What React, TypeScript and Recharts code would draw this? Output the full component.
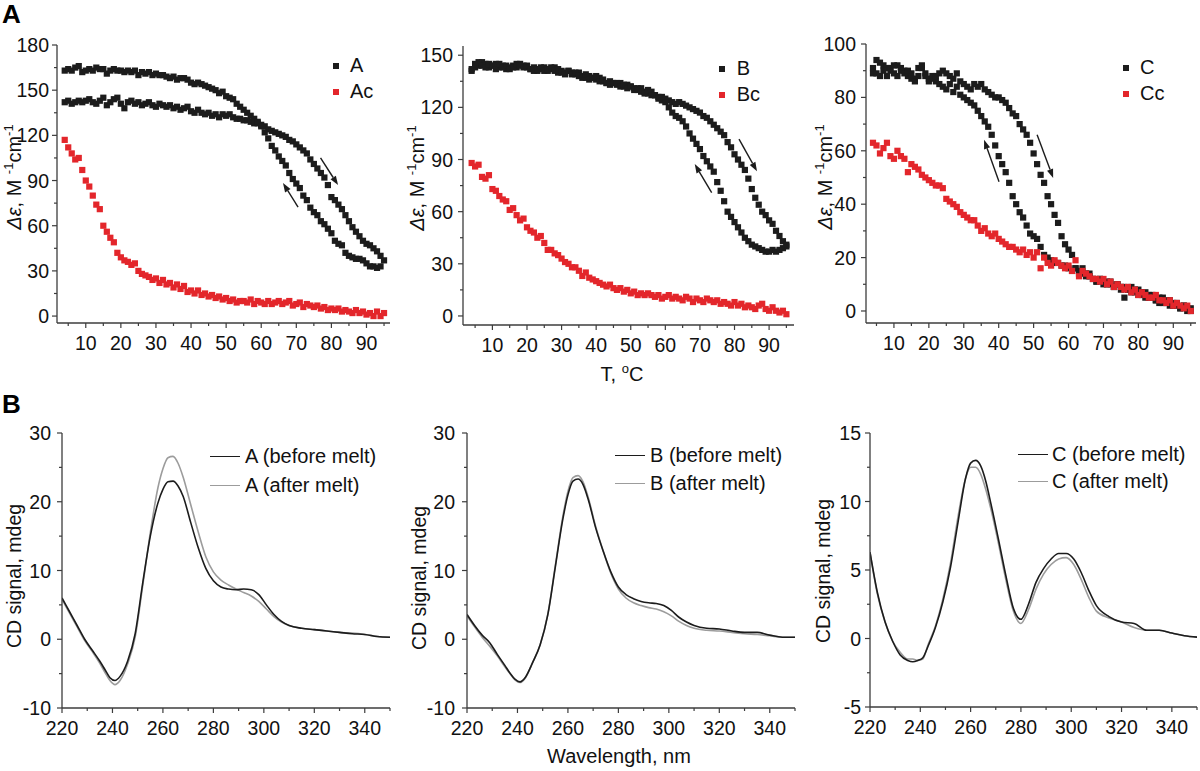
import React from "react";
import {
  ScatterChart, Scatter, LineChart, Line, XAxis, YAxis, ReferenceLine, Legend,
} from "recharts";

const FONT = "'Liberation Sans', Arial, Helvetica, sans-serif";
const INK = "#1c1c1c";
const RED = "#e3262b";
const AXIS = "#3c3c3c";
const GREY = "#9c9c9c";
const LABEL = "#111111";

// melting curves: one reading per degree, 4..95 °C
const TEMPS = [
  4, 5, 6, 7, 8, 9, 10, 11, 12, 13, 14, 15, 16, 17, 18, 19, 20, 21, 22, 23,
  24, 25, 26, 27, 28, 29, 30, 31, 32, 33, 34, 35, 36, 37, 38, 39, 40, 41, 42, 43,
  44, 45, 46, 47, 48, 49, 50, 51, 52, 53, 54, 55, 56, 57, 58, 59, 60, 61, 62, 63,
  64, 65, 66, 67, 68, 69, 70, 71, 72, 73, 74, 75, 76, 77, 78, 79, 80, 81, 82, 83,
  84, 85, 86, 87, 88, 89, 90, 91, 92, 93, 94, 95,
];

const A_HEAT = [
  142, 143, 141, 142, 143, 142, 143, 144, 142, 141,
  143, 145, 140, 142, 144, 145, 141, 138, 142, 143,
  141, 142, 140, 141, 142, 140, 139, 141, 140, 139,
  140, 138, 139, 137, 138, 139, 136, 135, 137, 135,
  134, 135, 133, 134, 132, 134, 133, 134, 132, 131,
  131, 130, 130, 129, 128, 128, 127, 126, 124, 123,
  122, 121, 120, 119, 117, 116, 114, 112, 110, 108,
  104, 101, 98, 95, 92, 87, 79, 77, 74, 71,
  67, 63, 59, 56, 53, 50, 48, 47, 45, 43, 40, 37,
];
const A_COOL = [
  163, 164, 163, 165, 166, 162, 163, 164, 163, 165,
  164, 164, 161, 163, 164, 163, 163, 162, 163, 162,
  163, 160, 162, 161, 162, 160, 161, 160, 160, 159,
  158, 159, 157, 158, 158, 157, 155, 154, 155, 154,
  153, 152, 151, 150, 148, 149, 146, 145, 144, 141,
  139, 137, 135, 133, 131, 129, 126, 122, 118, 113,
  110, 106, 103, 100, 95, 91, 88, 85, 80, 77,
  72, 69, 67, 63, 61, 58, 55, 50, 48, 47,
  42, 40, 39, 38, 38, 37, 35, 33, 33, 32, 33, null,
];
const A_CTRL = [
  117, 112, 108, 104, 105, 97, 90, 86, 80, 74,
  71, 60, 56, 52, 49, 42, 39, 37, 36, 34,
  35, 30, 28, 27, 26, 24, 25, 22, 24, 21,
  22, 19, 21, 18, 20, 16, 17, 15, 17, 14,
  15, 13, 14, 12, 13, 11, 12, 10, 11, 9,
  10, 10, 9, 11, 8, 10, 9, 8, 10, 8,
  9, 10, 8, 9, 10, 7, 8, 9, 6, 8,
  7, 6, 7, 5, 6, 4, 5, 4, 5, 3,
  4, 3, 2, 4, 2, 3, 1, 2, 0, 3, 0, 2,
];

const B_HEAT = [
  141, 143, 144, 146, 145, 143, 144, 145, 143, 144,
  142, 143, 144, 143, 145, 144, 143, 142, 143, 141,
  142, 143, 141, 142, 143, 140, 141, 140, 141, 140,
  139, 140, 138, 137, 138, 137, 136, 137, 135, 134,
  135, 134, 133, 134, 132, 133, 132, 131, 130, 131,
  129, 128, 129, 127, 126, 126, 125, 124, 123, 122,
  123, 122, 121, 120, 119, 118, 117, 115, 114, 112,
  110, 108, 106, 104, 100, 97, 93, 90, 87, 84,
  79, 73, 68, 64, 60, 58, 55, 53, 49, 46, 43, 40,
];
const B_COOL = [
  142, 145, 146, 144, 143, 145, 144, 142, 145, 143,
  144, 142, 143, 145, 144, 143, 144, 142, 141, 142,
  143, 141, 142, 143, 141, 142, 140, 139, 141, 139,
  140, 138, 137, 139, 136, 137, 138, 135, 136, 134,
  133, 134, 134, 132, 133, 131, 132, 130, 131, 129,
  128, 130, 127, 127, 125, 124, 123, 120, 117, 115,
  114, 112, 109, 105, 102, 99, 96, 92, 89, 86,
  83, 77, 72, 66, 60, 57, 54, 51, 48, 45,
  43, 41, 40, 39, 38, 37, 37, 38, 37, 38, 39, 41,
];
const B_CTRL = [
  88, 86, 87, 80, 79, 81, 73, 72, 69, 67,
  66, 61, 62, 58, 55, 56, 51, 49, 48, 45,
  46, 42, 38, 38, 36, 35, 33, 31, 30, 28,
  28, 26, 23, 25, 22, 21, 20, 19, 18, 17,
  18, 16, 15, 16, 14, 15, 13, 14, 12, 13,
  12, 13, 12, 11, 12, 10, 11, 12, 10, 11,
  10, 9, 11, 10, 8, 10, 9, 8, 10, 9,
  8, 9, 7, 8, 7, 6, 8, 6, 7, 5,
  6, 5, 4, 6, 7, 4, 3, 5, 3, 2, 3, 1,
];

const C_HEAT = [
  89, 94, 88, 92, 91, 90, 89, 92, 91, 90,
  88, 89, 87, 91, 92, 89, 87, 88, 86, 89,
  90, 89, 88, 87, 89, 86, 85, 84, 83, 85,
  84, 85, 83, 82, 81, 80, 80, 79, 78, 76,
  74, 73, 70, 68, 66, 63, 59, 55, 51, 48,
  43, 40, 36, 33, 28, 25, 23, 21, 16, 15,
  16, 14, 13, 12, 11, 12, 10, 11, 10, 9,
  10, 9, 5, 8, 9, 7, 8, 6, 7, 5,
  6, 4, 3, 5, 3, 4, 2, 3, 1, 2, 1, 0,
];
const C_COOL = [
  91, 89, 93, 90, 88, 91, 92, 88, 90, 89,
  90, 87, 86, 88, 91, 88, 86, 87, 88, 85,
  84, 83, 85, 82, 84, 81, 80, 79, 78, 77,
  75, 73, 71, 69, 66, 62, 58, 55, 52, 48,
  43, 40, 37, 35, 32, 29, 28, 27, 24, 21,
  20, 19, 18, 18, 17, 17, 16, 15, 16, 14,
  14, 13, 14, 12, 11, 12, 11, 10, 11, 9,
  10, 8, 9, 8, 7, 8, 6, 7, 5, 6,
  5, 4, 5, 3, 4, 2, 3, 2, 1, 2, 0, 1,
];
const C_CTRL = [
  63, 62, 59, 61, 63, 58, 57, 60, 58, 57,
  52, 55, 54, 53, 51, 50, 49, 48, 47, 47,
  46, 42, 41, 40, 39, 37, 36, 35, 34, 34,
  32, 30, 31, 29, 28, 29, 27, 26, 25, 24,
  24, 23, 22, 23, 21, 22, 20, 22, 16, 20,
  18, 17, 19, 18, 17, 16, 17, 15, 19, 13,
  15, 14, 13, 12, 12, 11, 12, 10, 11, 9,
  10, 9, 8, 9, 7, 8, 6, 7, 6, 5,
  5, 6, 4, 4, 3, 4, 2, 3, 2, 1, 2, 0,
];

// heating / cooling arrows, in data units
const A_ARROWS = [
  [{ x: 76.9, y: 105 }, { x: 81.9, y: 87 }],
  [{ x: 70.5, y: 72.4 }, { x: 66.2, y: 88.3 }],
];
const B_ARROWS = [
  [{ x: 81.3, y: 101.7 }, { x: 86.5, y: 83.3 }],
  [{ x: 73.4, y: 70.9 }, { x: 68.5, y: 87.4 }],
];
const C_ARROWS = [
  [{ x: 40.1, y: 48.4 }, { x: 35.8, y: 64.1 }],
  [{ x: 51, y: 66 }, { x: 55.6, y: 49.8 }],
];

// CD spectra
const WL = [
  220, 223, 226, 229, 232, 235, 237, 239, 241, 243, 246, 249, 252, 255, 258,
  260, 262, 264, 266, 268, 271, 274, 277, 280, 283, 286, 289, 292, 295, 298,
  301, 304, 307, 310, 315, 320, 325, 330, 335, 340, 345, 350,
];
const A_BEFORE = [
  6.0, 4.0, 2.0, 0.0, -1.6, -3.2, -4.4, -5.6, -6.0, -5.4, -3.2, 0.8, 8.2, 15.0, 19.8,
  21.8, 22.9, 23.0, 22.3, 20.8, 17.0, 13.3, 10.3, 8.5, 7.6, 7.3, 7.2, 7.3, 7.2, 6.5,
  5.0, 3.6, 2.6, 2.0, 1.6, 1.4, 1.2, 1.0, 0.8, 0.7, 0.4, 0.3,
];
const A_AFTER = [
  5.8, 3.8, 1.8, -0.2, -1.8, -3.5, -4.8, -6.0, -6.6, -6.0, -3.6, 0.3, 7.8, 15.5, 22.0,
  24.8, 26.4, 26.6, 25.6, 23.6, 19.6, 15.6, 12.0, 9.8, 8.6, 7.9, 7.3, 6.8, 6.3, 5.5,
  4.4, 3.3, 2.5, 2.0, 1.6, 1.4, 1.2, 1.0, 0.9, 0.7, 0.4, 0.3,
];
const B_BEFORE = [
  3.6, 2.0, 0.6, -0.5, -2.2, -3.8, -4.9, -5.8, -6.2, -5.6, -3.4, -0.8, 3.5, 10.5, 17.5,
  21.0, 23.0, 23.3, 22.5, 20.4, 16.2, 12.8, 9.8, 7.6, 6.5, 5.9, 5.5, 5.3, 5.2, 4.9,
  4.2, 3.2, 2.5, 2.0, 1.6, 1.5, 1.2, 1.0, 1.0, 0.6, 0.3, 0.3,
];
const B_AFTER = [
  3.4, 1.8, 0.3, -1.0, -2.4, -4.0, -5.0, -5.9, -6.3, -5.7, -3.4, -0.8, 3.6, 10.7, 17.9,
  21.5, 23.5, 23.8, 22.9, 20.7, 16.4, 12.8, 9.6, 7.3, 6.0, 5.3, 4.9, 4.6, 4.4, 4.0,
  3.4, 2.6, 2.0, 1.6, 1.3, 1.2, 1.0, 0.8, 0.7, 0.5, 0.3, 0.3,
];
const C_BEFORE = [
  6.3, 3.3, 1.2, -0.2, -1.2, -1.6, -1.7, -1.6, -1.4, -0.6, 0.8, 2.7, 5.2, 8.5, 11.7,
  12.8, 13.0, 12.6, 11.5, 9.9, 7.3, 4.6, 2.2, 1.4, 2.5, 4.1, 5.1, 5.8, 6.2, 6.2,
  5.8, 4.8, 3.5, 2.4, 1.6, 1.2, 1.1, 0.6, 0.6, 0.4, 0.2, 0.1,
];
const C_AFTER = [
  6.3, 3.2, 1.2, -0.2, -1.0, -1.5, -1.5, -1.6, -1.5, -0.5, 0.9, 2.9, 5.5, 8.9, 11.7,
  12.5, 12.5, 12.0, 10.9, 9.5, 7.0, 4.3, 2.0, 1.1, 2.1, 3.6, 4.7, 5.4, 5.8, 5.9,
  5.4, 4.3, 3.0, 2.0, 1.5, 1.2, 0.8, 0.6, 0.6, 0.4, 0.2, 0.1,
];

// ticks (labels only on the major ones)
const T_TICKS = [5, 10, 15, 20, 25, 30, 35, 40, 45, 50, 55, 60, 65, 70, 75, 80, 85, 90, 95];
const A_Y_TICKS = [0, 15, 30, 45, 60, 75, 90, 105, 120, 135, 150, 165, 180];
const B_Y_TICKS = [0, 15, 30, 45, 60, 75, 90, 105, 120, 135, 150];
const C_Y_TICKS = [0, 10, 20, 30, 40, 50, 60, 70, 80, 90, 100];
const WL_TICKS = [220, 230, 240, 250, 260, 270, 280, 290, 300, 310, 320, 330, 340, 350];
const CD_TICKS = [-10, -5, 0, 5, 10, 15, 20, 25, 30];
const C_CD_TICKS = [-5, -2.5, 0, 2.5, 5, 7.5, 10, 12.5, 15];

const toPoints = (vals: (number | null)[]) =>
  TEMPS.map((t, i) => ({ t, v: vals[i] })).filter((p) => p.v !== null);

const toRows = (before: number[], after: number[]) =>
  WL.map((wl, i) => ({ wl, before: before[i], after: after[i] }));

const axisLine = { stroke: AXIS, strokeWidth: 1.3 };

const xTick = (isMajor: (v: number) => boolean) => (props: any) => {
  const { x, y, payload } = props;
  const major = isMajor(payload.value);
  return (
    <g>
      <line x1={x} x2={x} y1={y} y2={y + (major ? 5 : 3)} stroke={AXIS} strokeWidth={1.2} />
      {major && (
        <text x={x} y={y + 27} textAnchor="middle" fontSize={19.5} fontFamily={FONT} fill={LABEL}>
          {payload.value}
        </text>
      )}
    </g>
  );
};

const yTick = (isMajor: (v: number) => boolean, gap: number) => (props: any) => {
  const { x, y, payload } = props;
  const major = isMajor(payload.value);
  return (
    <g>
      <line x1={x - (major ? 5 : 3)} x2={x} y1={y} y2={y} stroke={AXIS} strokeWidth={1.2} />
      {major && (
        <text x={x - gap} y={y + 7} textAnchor="end" fontSize={19.5} fontFamily={FONT} fill={LABEL}>
          {payload.value}
        </text>
      )}
    </g>
  );
};

const square = (color: string) => (p: any) => (
  <rect x={p.cx - 3.1} y={p.cy - 3.1} width={6.2} height={6.2} fill={color} />
);

const Arrow = (p: any) => {
  const { x1, y1, x2, y2 } = p;
  const ang = Math.atan2(y2 - y1, x2 - x1);
  const bx = x2 - 9 * Math.cos(ang);
  const by = y2 - 9 * Math.sin(ang);
  const nx = -Math.sin(ang) * 3.2;
  const ny = Math.cos(ang) * 3.2;
  return (
    <g>
      <line x1={x1} y1={y1} x2={bx} y2={by} stroke={INK} strokeWidth={1.4} />
      <polygon points={`${x2},${y2} ${bx + nx},${by + ny} ${bx - nx},${by - ny}`} fill={INK} />
    </g>
  );
};

const legendItems = (payload: any[] = [], order: string[]) => {
  const seen = new Set<string>();
  return payload
    .filter((it) => it.type !== "none" && order.includes(it.value))
    .filter((it) => (seen.has(it.value) ? false : (seen.add(it.value), true)))
    .sort((a, b) => order.indexOf(a.value) - order.indexOf(b.value));
};

const SquareLegend = ({ payload, order, gap }: any) => (
  <div style={{ fontFamily: FONT, fontSize: 20, color: LABEL }}>
    {legendItems(payload, order).map((it: any) => (
      <div key={it.value} style={{ display: "flex", alignItems: "center", height: 26 }}>
        <span style={{ width: 12, display: "flex", justifyContent: "center" }}>
          <span style={{ width: 6, height: 6, background: it.color }} />
        </span>
        <span style={{ marginLeft: gap }}>{it.value}</span>
      </div>
    ))}
  </div>
);

const LineLegend = ({ payload, order, gap, row }: any) => (
  <div style={{ fontFamily: FONT, fontSize: 20, color: LABEL }}>
    {legendItems(payload, order).map((it: any) => (
      <div key={it.value} style={{ display: "flex", alignItems: "center", height: row, whiteSpace: "nowrap" }}>
        <span style={{ width: 30, height: 0, borderTop: `1.6px solid ${it.color}` }} />
        <span style={{ marginLeft: gap }}>{it.value}</span>
      </div>
    ))}
  </div>
);

function MeltPanel(p: any) {
  return (
    <div style={{ position: "absolute", left: p.left, top: 0 }}>
      <ScatterChart width={400} height={380} margin={p.margin}>
        <XAxis dataKey="t" type="number" domain={p.xDomain} allowDataOverflow ticks={T_TICKS} interval={0}
          tick={xTick((v) => v % 10 === 0)} tickLine={false} tickSize={0} tickMargin={0} height={40} axisLine={axisLine} />
        <YAxis dataKey="v" type="number" domain={p.yDomain} allowDataOverflow ticks={p.yTicks} interval={0}
          tick={yTick((v) => v % p.yMajor === 0, p.yGap)} tickLine={false} tickSize={0} tickMargin={0} width={50} axisLine={axisLine} />
        <XAxis xAxisId="top" orientation="top" type="number" domain={p.xDomain} allowDataOverflow
          tick={false} tickLine={false} height={0} axisLine={axisLine} />
        <YAxis yAxisId="right" orientation="right" type="number" domain={p.yDomain} allowDataOverflow
          tick={false} tickLine={false} width={0} axisLine={axisLine} />
        <Scatter name={p.name} data={toPoints(p.heat)} fill={INK} shape={square(INK)} isAnimationActive={false} />
        <Scatter name={p.name} data={toPoints(p.cool)} fill={INK} shape={square(INK)} legendType="none" isAnimationActive={false} />
        <Scatter name={p.ctrlName} data={toPoints(p.ctrl)} fill={RED} shape={square(RED)} isAnimationActive={false} />
        {p.arrows.map((seg: any, i: number) => (
          <ReferenceLine key={i} segment={seg} shape={Arrow} />
        ))}
        <Legend layout="vertical" align="center" verticalAlign="middle"
          wrapperStyle={{ left: p.legend.left, top: p.legend.top, width: "auto" }}
          content={(lp: any) => <SquareLegend payload={lp.payload} order={[p.name, p.ctrlName]} gap={p.legend.gap} />} />
      </ScatterChart>
    </div>
  );
}

function SpectrumPanel(p: any) {
  const before = `${p.id} (before melt)`;
  const after = `${p.id} (after melt)`;
  return (
    <div style={{ position: "absolute", left: p.left, top: 380 }}>
      <LineChart width={400} height={391} data={toRows(p.before, p.after)} margin={p.margin}>
        <XAxis dataKey="wl" type="number" domain={[220, 350]} allowDataOverflow ticks={WL_TICKS} interval={0}
          tick={xTick((v) => (v - 220) % 20 === 0)} tickLine={false} tickSize={0} tickMargin={0} height={40} axisLine={axisLine} />
        <YAxis type="number" domain={p.yDomain} allowDataOverflow ticks={p.yTicks} interval={0}
          tick={yTick((v) => v % p.yMajor === 0, p.yGap)} tickLine={false} tickSize={0} tickMargin={0} width={50} axisLine={axisLine} />
        <XAxis xAxisId="top" orientation="top" type="number" domain={[220, 350]} allowDataOverflow
          tick={false} tickLine={false} height={0} axisLine={axisLine} />
        <YAxis yAxisId="right" orientation="right" type="number" domain={p.yDomain} allowDataOverflow
          tick={false} tickLine={false} width={0} axisLine={axisLine} />
        <Line dataKey="after" name={after} type="monotone" stroke={GREY} strokeWidth={1.6} dot={false} isAnimationActive={false} />
        <Line dataKey="before" name={before} type="monotone" stroke={INK} strokeWidth={1.6} dot={false} isAnimationActive={false} />
        <Legend layout="vertical" align="center" verticalAlign="middle"
          wrapperStyle={{ left: p.legend.left, top: p.legend.top, width: "auto" }}
          content={(lp: any) => <LineLegend payload={lp.payload} order={[before, after]} gap={p.legend.gap} row={p.legend.row} />} />
      </LineChart>
    </div>
  );
}

const DeltaEps = ({ x, y }: { x: number; y: number }) => (
  <text x={x} y={y} transform={`rotate(-90 ${x} ${y})`} textAnchor="middle" fontSize={20} fontFamily={FONT} fill={LABEL}>
    <tspan fontStyle="italic">Δε</tspan>
    {", M "}
    <tspan fontSize={13} dy={-8}>-1</tspan>
    <tspan dy={8}>cm</tspan>
    <tspan fontSize={13} dy={-8}>-1</tspan>
  </text>
);

const CdTitle = ({ x, y }: { x: number; y: number }) => (
  <text x={x} y={y} transform={`rotate(-90 ${x} ${y})`} textAnchor="middle" fontSize={19.5} fontFamily={FONT} fill={LABEL}>
    CD signal, mdeg
  </text>
);

export default function App() {
  return (
    <div style={{ position: "absolute", left: 0, top: 0, width: 1200, height: 771, background: "#fff", fontFamily: FONT, overflow: "hidden" }}>
      <MeltPanel left={0} margin={{ top: 45, right: 10, bottom: 17, left: 7 }} xDomain={[1.8, 96.7]} yDomain={[-4.6, 180]}
        yTicks={A_Y_TICKS} yMajor={30} yGap={8} heat={A_HEAT} cool={A_COOL} ctrl={A_CTRL} name="A" ctrlName="Ac"
        arrows={A_ARROWS} legend={{ left: 329.5, top: 52.5, gap: 8.5 }} />
      <MeltPanel left={400} margin={{ top: 46, right: 6, bottom: 15, left: 13 }} xDomain={[1.5, 97.2]} yDomain={[-5.2, 155.3]}
        yTicks={B_Y_TICKS} yMajor={30} yGap={10} heat={B_HEAT} cool={B_COOL} ctrl={B_CTRL} name="B" ctrlName="Bc"
        arrows={B_ARROWS} legend={{ left: 316, top: 55.5, gap: 8.7 }} />
      <MeltPanel left={800} margin={{ top: 44, right: 4, bottom: 17, left: 16 }} xDomain={[2, 96.5]} yDomain={[-4.5, 100]}
        yTicks={C_Y_TICKS} yMajor={20} yGap={10} heat={C_HEAT} cool={C_COOL} ctrl={C_CTRL} name="C" ctrlName="Cc"
        arrows={C_ARROWS} legend={{ left: 319.5, top: 54.5, gap: 8.5 }} />

      <SpectrumPanel left={0} id="A" margin={{ top: 53, right: 10, bottom: 23, left: 12 }} yDomain={[-10, 30]} yTicks={CD_TICKS}
        yMajor={10} yGap={11} before={A_BEFORE} after={A_AFTER} legend={{ left: 210, top: 61.5, gap: 5, row: 29 }} />
      <SpectrumPanel left={400} id="B" margin={{ top: 53, right: 5, bottom: 23, left: 17 }} yDomain={[-10, 30]} yTicks={CD_TICKS}
        yMajor={10} yGap={12} before={B_BEFORE} after={B_AFTER} legend={{ left: 215, top: 61, gap: 5, row: 28 }} />
      <SpectrumPanel left={800} id="C" margin={{ top: 53, right: 3, bottom: 24, left: 20 }} yDomain={[-5, 15]} yTicks={C_CD_TICKS}
        yMajor={5} yGap={9} before={C_BEFORE} after={C_AFTER} legend={{ left: 218, top: 61, gap: 4, row: 27 }} />

      <svg width={1200} height={771} style={{ position: "absolute", left: 0, top: 0, pointerEvents: "none" }}>
        <text x={2} y={23} fontSize={26} fontWeight="bold" fontFamily={FONT} fill="#000">A</text>
        <text x={2} y={413} fontSize={26} fontWeight="bold" fontFamily={FONT} fill="#000">B</text>
        <DeltaEps x={21} y={177} />
        <DeltaEps x={424} y={178} />
        <DeltaEps x={832} y={177} />
        <CdTitle x={21} y={576} />
        <CdTitle x={426} y={578} />
        <CdTitle x={830} y={571} />
        <text x={622} y={381} textAnchor="middle" fontSize={20} fontFamily={FONT} fill={LABEL}>
          {"T, "}
          <tspan fontSize={13} dy={-8}>o</tspan>
          <tspan dy={8}>C</tspan>
        </text>
        <text x={619} y={763} textAnchor="middle" fontSize={20} fontFamily={FONT} fill={LABEL}>
          Wavelength, nm
        </text>
      </svg>
    </div>
  );
}
